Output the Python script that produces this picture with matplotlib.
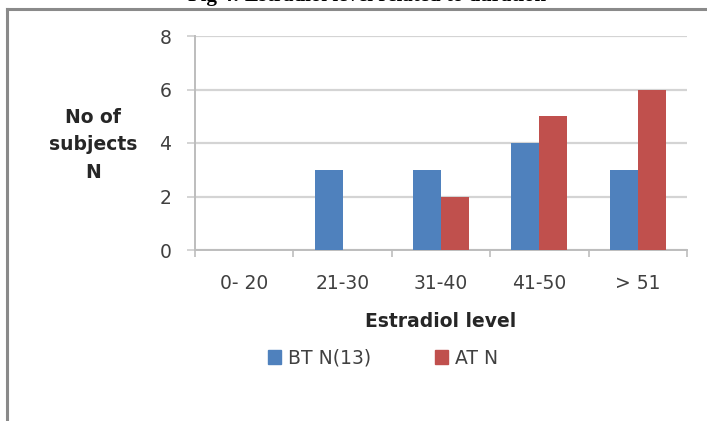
import numpy as np
import matplotlib.pyplot as plt
from matplotlib.lines import Line2D
from matplotlib.patches import Patch

plt.rcParams['font.family'] = ['DejaVu Sans']

categories = ['0- 20', '21-30', '31-40', '41-50', '> 51']
bt_n = [0, 3, 3, 4, 3]
at_n = [0, 0, 2, 5, 6]
series_names = ['BT N(13)', 'AT N']
colors = ['#4F81BD', '#C0504D']

W, H = 707, 421
fig = plt.figure(figsize=(W / 100, H / 100), dpi=100)

# caption of the figure, mostly cut off by the top edge
fig.text(188 / W, 1 - 0.9 / H, 'Fig 4: Estradiol level related to duration',
         family='Liberation Serif', weight='bold', fontsize=15,
         ha='left', va='baseline', color='black')

# frame around the chart (top and left edges only are visible)
fig.add_artist(Line2D([7 / W, 1.0], [1 - 9 / H, 1 - 9 / H],
                      transform=fig.transFigure, color='#8a8a8a', lw=2.2))
fig.add_artist(Line2D([7 / W, 7 / W], [0.0, 1 - 9 / H],
                      transform=fig.transFigure, color='#8a8a8a', lw=2.2))

ax = fig.add_axes([195 / W, 1 - 250 / H, 492 / W, 214 / H])

x = np.arange(len(categories))
bw = 0.285
ax.bar(x - bw / 2, bt_n, bw, color=colors[0], zorder=3)
ax.bar(x + bw / 2, at_n, bw, color=colors[1], zorder=3)

ax.set_xlim(-0.5, len(categories) - 0.5)
ax.set_ylim(0, 8)
ax.set_yticks([0, 2, 4, 6, 8])
ax.yaxis.grid(True, color='#d4d4d4', lw=1.6, zorder=0)
ax.set_axisbelow(True)

for s in ['top', 'right']:
    ax.spines[s].set_visible(False)
for s in ['left', 'bottom']:
    ax.spines[s].set_color('#bdbdbd')
    ax.spines[s].set_linewidth(1.4)

ax.set_xticks(x)
ax.set_xticklabels(categories)
ax.set_xticks(np.arange(-0.5, len(categories)), minor=True)
ax.tick_params(axis='x', which='major', length=0, pad=17, labelsize=13.5,
               labelcolor='#404040')
ax.tick_params(axis='x', which='minor', length=5, width=1.2, color='#bdbdbd')
ax.tick_params(axis='y', length=6, width=1.4, color='#d4d4d4', pad=11,
               labelsize=13.5, labelcolor='#404040')

ax.set_xlabel('Estradiol level', fontsize=13.5, weight='bold', color='#262626',
              labelpad=14)
fig.text(93 / W, 1 - 145 / H, 'No of\nsubjects\nN', fontsize=13.5, weight='bold',
         color='#262626', ha='center', va='center', linespacing=1.55)

handles = [Patch(color=c) for c in colors]
fig.legend(handles, series_names, loc='center', ncol=2,
           bbox_to_anchor=(383 / W, 1 - 358 / H), frameon=False, fontsize=13.5,
           handlelength=0.7, handleheight=0.7, handletextpad=0.35,
           columnspacing=3.4, labelcolor='#404040')

fig.savefig('out.png', dpi=100, facecolor='white')
